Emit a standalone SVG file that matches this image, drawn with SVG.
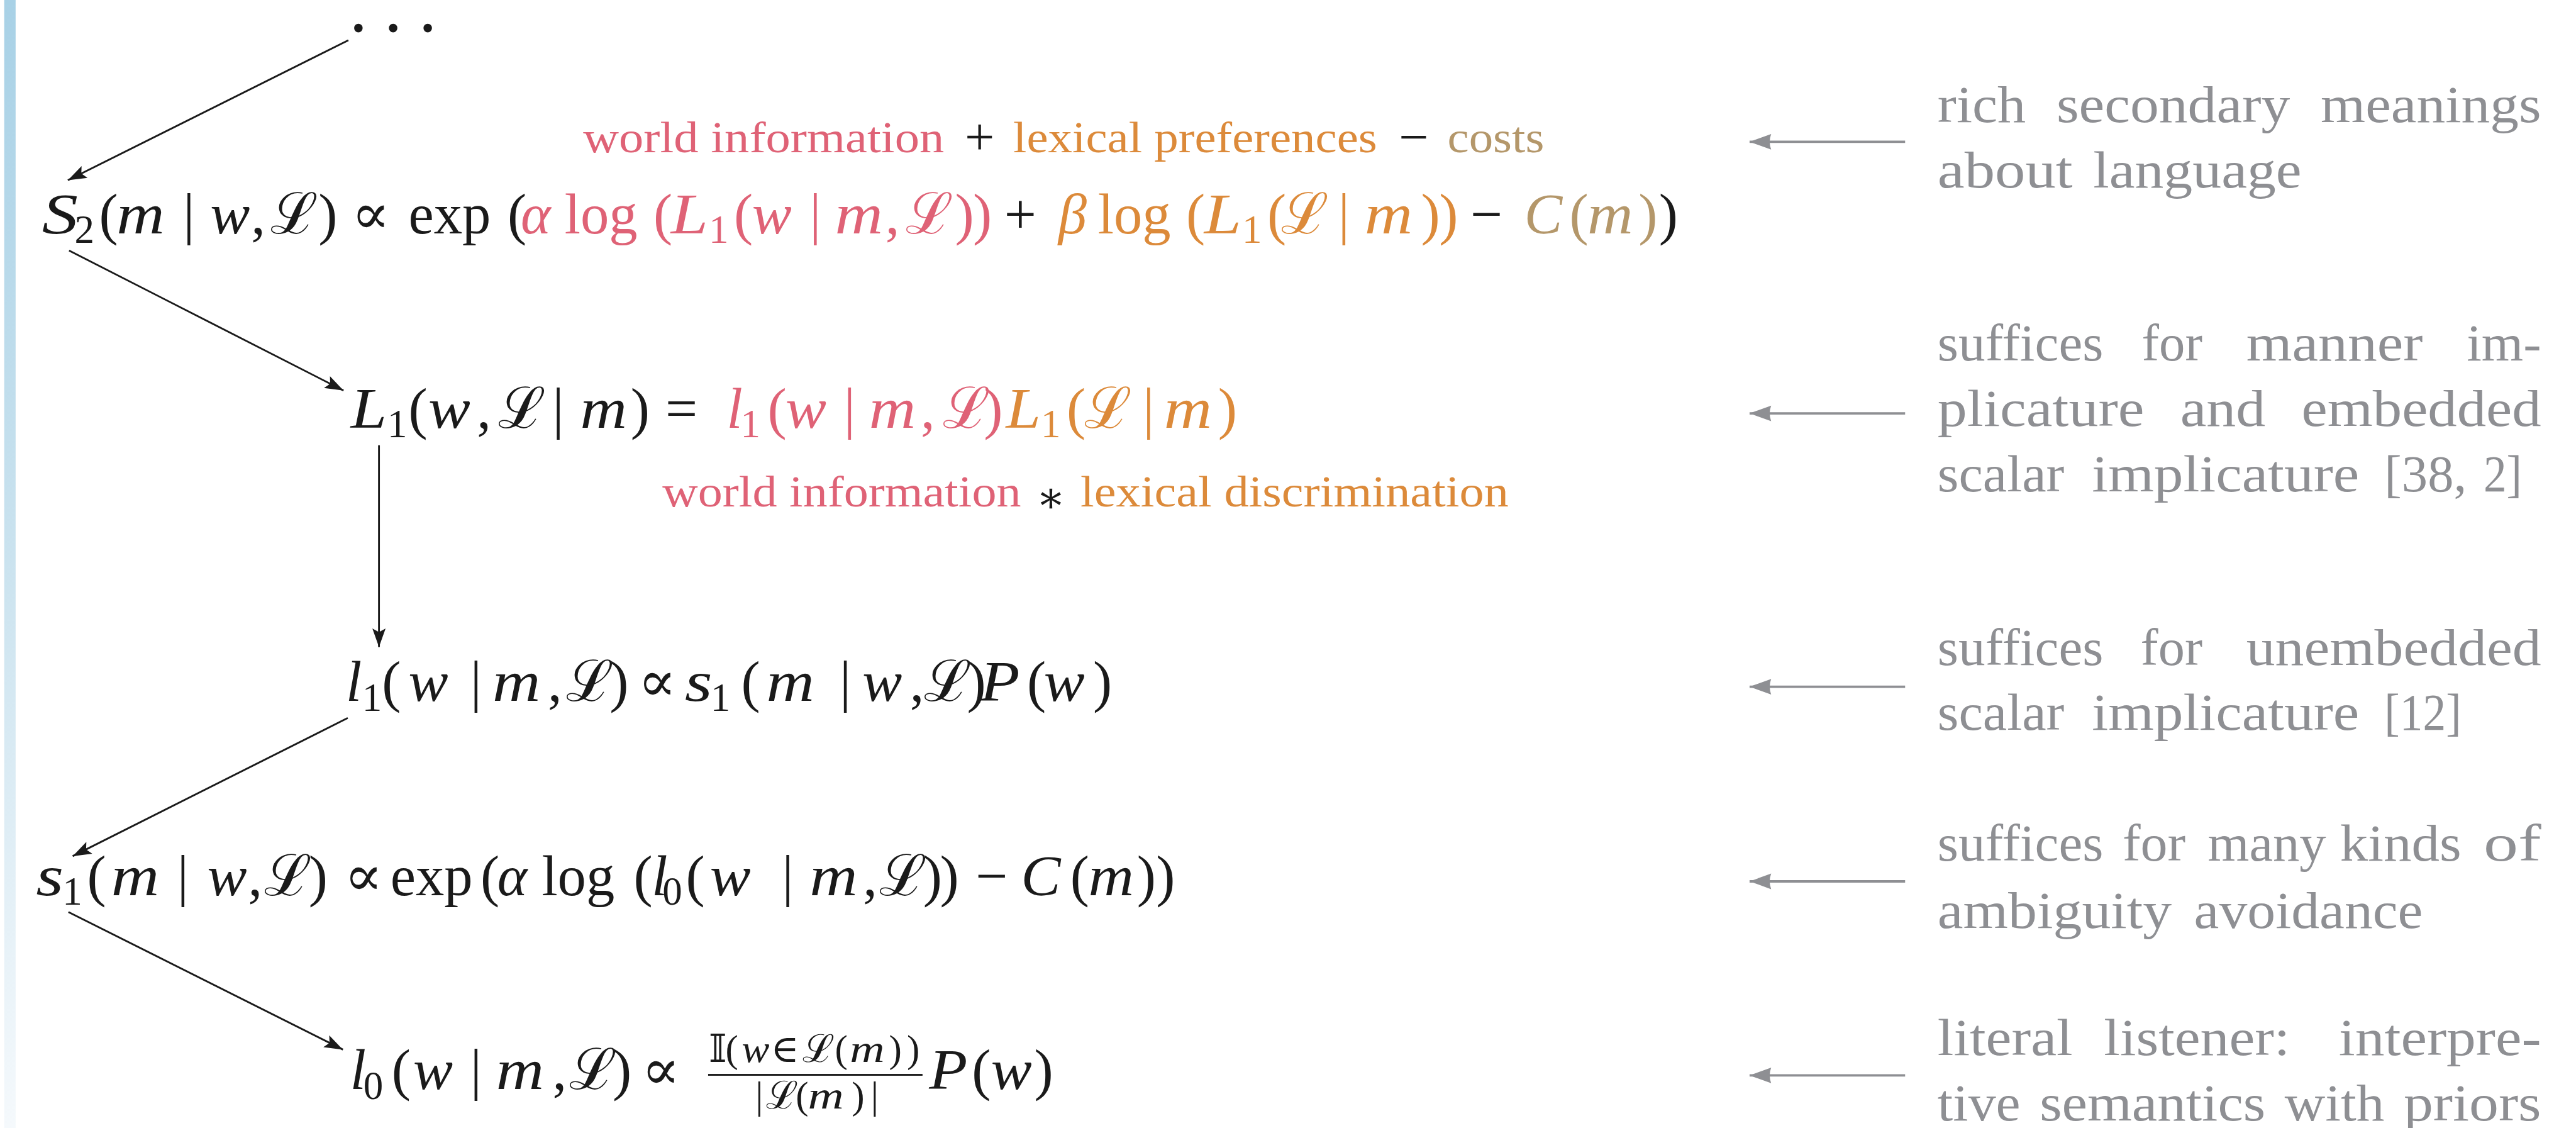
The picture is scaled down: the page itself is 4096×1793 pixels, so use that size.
<svg xmlns="http://www.w3.org/2000/svg" width="4096" height="1793" viewBox="0 0 4096 1793">
<style>
.math{font-family:"Liberation Serif","DejaVu Serif",serif;font-size:95px;fill:#1a1a1a}
.it{font-style:italic}
.sub{font-size:66px}
.frac{font-size:64px}
.red{fill:#df6276}
.org{fill:#dc8a3a}
.tan{fill:#b4976a}
.blk{fill:#1a1a1a}
.ann{font-family:"Liberation Serif","DejaVu Serif",serif;font-size:72px}
.op{font-size:88px}
.note{font-family:"Liberation Serif","DejaVu Serif",serif;font-size:86px;fill:#8e8f93}
.conn{stroke:#1a1a1a;stroke-width:3;fill:none}
.gconn{stroke:#8e8f93;stroke-width:4;fill:none}
</style>
<defs>
<linearGradient id="bar" x1="0" y1="0" x2="0" y2="1">
<stop offset="0" stop-color="#a8d1e6"/>
<stop offset="0.5" stop-color="#cbe3ef"/>
<stop offset="1" stop-color="#f5f9fc"/>
</linearGradient>
<marker id="ah" markerUnits="userSpaceOnUse" viewBox="-34 -14 36 28" refX="0" refY="0" markerWidth="36" markerHeight="28" orient="auto">
<path d="M0,0 L-31,-11 L-25,0 L-31,11 Z" fill="#1a1a1a"/>
</marker>
<marker id="gh" markerUnits="userSpaceOnUse" viewBox="-40 -16 42 32" refX="0" refY="0" markerWidth="42" markerHeight="32" orient="auto">
<path d="M0,0 L-36,-13 Q-31,0 -36,13 Z" fill="#8e8f93"/>
</marker>
</defs>
<rect width="4096" height="1793" fill="#ffffff"/>
<g transform="scale(0.955)">
<rect x="7" y="0" width="19" height="1878" fill="url(#bar)"/>

<g id="dots">
<text class="math" x="581" y="79" font-size="64" letter-spacing="26" stroke="#1a1a1a" stroke-width="3">···</text>
</g>

<g id="S2">
<text class="math" y="388"><tspan class="it" x="70" textLength="60" lengthAdjust="spacingAndGlyphs">S</tspan><tspan class="sub" x="124" y="404">2</tspan><tspan x="165" y="388">(</tspan><tspan class="it" x="194" textLength="80" lengthAdjust="spacingAndGlyphs">m</tspan><tspan x="305">|</tspan><tspan class="it" x="350" textLength="66" lengthAdjust="spacingAndGlyphs">w</tspan><tspan x="418">,</tspan><tspan x="450">ℒ</tspan><tspan x="530">)</tspan><tspan x="585">∝</tspan><tspan x="680">exp</tspan><tspan x="845">(</tspan><tspan class="it red" x="867">α</tspan><tspan class="red" x="940">log</tspan><tspan class="red" x="1088">(</tspan><tspan class="it red" x="1117" textLength="62" lengthAdjust="spacingAndGlyphs">L</tspan><tspan class="sub red" x="1180" y="404">1</tspan><tspan class="red" x="1222" y="388">(</tspan><tspan class="it red" x="1252" textLength="66" lengthAdjust="spacingAndGlyphs">w</tspan><tspan class="red" x="1348">|</tspan><tspan class="it red" x="1390" textLength="80" lengthAdjust="spacingAndGlyphs">m</tspan><tspan class="red" x="1474">,</tspan><tspan class="red" x="1508">ℒ</tspan><tspan class="red" x="1590">)</tspan><tspan class="red" x="1620">)</tspan><tspan x="1672">+</tspan><tspan class="it org" x="1762">β</tspan><tspan class="org" x="1828">log</tspan><tspan class="org" x="1975">(</tspan><tspan class="it org" x="2005" textLength="62" lengthAdjust="spacingAndGlyphs">L</tspan><tspan class="sub org" x="2068" y="404">1</tspan><tspan class="org" x="2110" y="388">(</tspan><tspan class="org" x="2133">ℒ</tspan><tspan class="org" x="2228">|</tspan><tspan class="it org" x="2272" textLength="80" lengthAdjust="spacingAndGlyphs">m</tspan><tspan class="org" x="2366">)</tspan><tspan class="org" x="2396">)</tspan><tspan x="2448">−</tspan><tspan class="it tan" x="2538">C</tspan><tspan class="tan" x="2613">(</tspan><tspan class="it tan" x="2643" textLength="76" lengthAdjust="spacingAndGlyphs">m</tspan><tspan class="tan" x="2728">)</tspan><tspan x="2762">)</tspan></text>
</g>

<g id="S2-annotation">
<text class="ann red" x="971" y="253" textLength="601" lengthAdjust="spacingAndGlyphs">world information</text>
<text class="ann op blk" x="1631" y="258" text-anchor="middle">+</text>
<text class="ann org" x="1687" y="253" textLength="606" lengthAdjust="spacingAndGlyphs">lexical preferences</text>
<text class="ann op blk" x="2354" y="258" text-anchor="middle">−</text>
<text class="ann tan" x="2410" y="253" textLength="161" lengthAdjust="spacingAndGlyphs">costs</text>
</g>

<g id="L1">
<text class="math" y="712"><tspan class="it" x="584" textLength="60" lengthAdjust="spacingAndGlyphs">L</tspan><tspan class="sub" x="645" y="728">1</tspan><tspan x="680" y="712">(</tspan><tspan class="it" x="713" textLength="70" lengthAdjust="spacingAndGlyphs">w</tspan><tspan x="794">,</tspan><tspan x="829">ℒ</tspan><tspan x="920">|</tspan><tspan class="it" x="966" textLength="78" lengthAdjust="spacingAndGlyphs">m</tspan><tspan x="1050">)</tspan><tspan x="1108">=</tspan><tspan class="it red" x="1210">l</tspan><tspan class="sub red" x="1233" y="728">1</tspan><tspan class="red" x="1278" y="712">(</tspan><tspan class="it red" x="1308" textLength="68" lengthAdjust="spacingAndGlyphs">w</tspan><tspan class="red" x="1405">|</tspan><tspan class="it red" x="1447" textLength="78" lengthAdjust="spacingAndGlyphs">m</tspan><tspan class="red" x="1533">,</tspan><tspan class="red" x="1570">ℒ</tspan><tspan class="red" x="1638">)</tspan><tspan class="it org" x="1675" textLength="58" lengthAdjust="spacingAndGlyphs">L</tspan><tspan class="sub org" x="1733" y="728">1</tspan><tspan class="org" x="1776" y="712">(</tspan><tspan class="org" x="1805">ℒ</tspan><tspan class="org" x="1903">|</tspan><tspan class="it org" x="1938" textLength="80" lengthAdjust="spacingAndGlyphs">m</tspan><tspan class="org" x="2028">)</tspan></text>
</g>

<g id="L1-annotation">
<text class="ann red" x="1103" y="843" textLength="597" lengthAdjust="spacingAndGlyphs">world information</text>
<text class="ann blk" x="1750" y="852" text-anchor="middle">∗</text>
<text class="ann org" x="1799" y="843" textLength="713" lengthAdjust="spacingAndGlyphs">lexical discrimination</text>
</g>

<g id="l1">
<text class="math" y="1167"><tspan class="it" x="576">l</tspan><tspan class="sub" x="603" y="1183">1</tspan><tspan x="636" y="1167">(</tspan><tspan class="it" x="680" textLength="66" lengthAdjust="spacingAndGlyphs">w</tspan><tspan x="783">|</tspan><tspan class="it" x="820" textLength="80" lengthAdjust="spacingAndGlyphs">m</tspan><tspan x="912">,</tspan><tspan x="942">ℒ</tspan><tspan x="1015">)</tspan><tspan x="1062">∝</tspan><tspan class="it" x="1140" textLength="46" lengthAdjust="spacingAndGlyphs">s</tspan><tspan class="sub" x="1183" y="1183">1</tspan><tspan x="1234" y="1167">(</tspan><tspan class="it" x="1276" textLength="80" lengthAdjust="spacingAndGlyphs">m</tspan><tspan x="1398">|</tspan><tspan class="it" x="1436" textLength="66" lengthAdjust="spacingAndGlyphs">w</tspan><tspan x="1515">,</tspan><tspan x="1538">ℒ</tspan><tspan x="1610">)</tspan><tspan class="it" x="1632" textLength="66" lengthAdjust="spacingAndGlyphs">P</tspan><tspan x="1710">(</tspan><tspan class="it" x="1738" textLength="68" lengthAdjust="spacingAndGlyphs">w</tspan><tspan x="1820">)</tspan></text>
</g>

<g id="s1">
<text class="math" y="1490"><tspan class="it" x="60" textLength="46" lengthAdjust="spacingAndGlyphs">s</tspan><tspan class="sub" x="104" y="1506">1</tspan><tspan x="145" y="1490">(</tspan><tspan class="it" x="185" textLength="80" lengthAdjust="spacingAndGlyphs">m</tspan><tspan x="295">|</tspan><tspan class="it" x="345" textLength="66" lengthAdjust="spacingAndGlyphs">w</tspan><tspan x="413">,</tspan><tspan x="440">ℒ</tspan><tspan x="514">)</tspan><tspan x="573">∝</tspan><tspan x="650">exp</tspan><tspan x="800">(</tspan><tspan class="it" x="828">α</tspan><tspan x="902">log</tspan><tspan x="1055">(</tspan><tspan class="it" x="1085">l</tspan><tspan class="sub" x="1103" y="1506">0</tspan><tspan x="1142" y="1490">(</tspan><tspan class="it" x="1182" textLength="68" lengthAdjust="spacingAndGlyphs">w</tspan><tspan x="1302">|</tspan><tspan class="it" x="1348" textLength="80" lengthAdjust="spacingAndGlyphs">m</tspan><tspan x="1437">,</tspan><tspan x="1464">ℒ</tspan><tspan x="1537">)</tspan><tspan x="1565">)</tspan><tspan x="1624">−</tspan><tspan class="it" x="1700" textLength="66" lengthAdjust="spacingAndGlyphs">C</tspan><tspan x="1782">(</tspan><tspan class="it" x="1812" textLength="76" lengthAdjust="spacingAndGlyphs">m</tspan><tspan x="1893">)</tspan><tspan x="1925">)</tspan></text>
</g>

<g id="l0">
<text class="math" y="1813"><tspan class="it" x="583">l</tspan><tspan class="sub" x="605" y="1829">0</tspan><tspan x="652" y="1813">(</tspan><tspan class="it" x="688" textLength="66" lengthAdjust="spacingAndGlyphs">w</tspan><tspan x="783">|</tspan><tspan class="it" x="826" textLength="80" lengthAdjust="spacingAndGlyphs">m</tspan><tspan x="920">,</tspan><tspan x="948">ℒ</tspan><tspan x="1020">)</tspan><tspan x="1068">∝</tspan><tspan class="it" x="1547" textLength="64" lengthAdjust="spacingAndGlyphs">P</tspan><tspan x="1618">(</tspan><tspan class="it" x="1650" textLength="68" lengthAdjust="spacingAndGlyphs">w</tspan><tspan x="1722">)</tspan></text>
<text class="math frac" y="1768"><tspan x="1180">𝕀</tspan><tspan x="1208">(</tspan><tspan class="it" x="1235" textLength="46" lengthAdjust="spacingAndGlyphs">w</tspan><tspan x="1283">∈</tspan><tspan x="1336">ℒ</tspan><tspan x="1390">(</tspan><tspan class="it" x="1415" textLength="58" lengthAdjust="spacingAndGlyphs">m</tspan><tspan x="1480">)</tspan><tspan x="1510">)</tspan></text>
<rect x="1179" y="1787.5" width="357" height="3" fill="#1a1a1a"/>
<text class="math frac" y="1845"><tspan x="1258">|</tspan><tspan x="1275">ℒ</tspan><tspan x="1325">(</tspan><tspan class="it" x="1345" textLength="60" lengthAdjust="spacingAndGlyphs">m</tspan><tspan x="1418">)</tspan><tspan x="1450">|</tspan></text>
</g>

<g id="connectors">
<path class="conn" d="M580,67 L113,300" marker-end="url(#ah)"/>
<path class="conn" d="M115,417 L572,650" marker-end="url(#ah)"/>
<path class="conn" d="M631,741 L631,1077" marker-end="url(#ah)"/>
<path class="conn" d="M579,1195 L121,1425" marker-end="url(#ah)"/>
<path class="conn" d="M114,1518 L571,1747" marker-end="url(#ah)"/>
<path class="gconn" d="M3172,236 L2913,236" marker-end="url(#gh)"/>
<path class="gconn" d="M3172,688 L2913,688" marker-end="url(#gh)"/>
<path class="gconn" d="M3172,1143 L2913,1143" marker-end="url(#gh)"/>
<path class="gconn" d="M3172,1467 L2913,1467" marker-end="url(#gh)"/>
<path class="gconn" d="M3172,1790 L2913,1790" marker-end="url(#gh)"/>
</g>

<g id="note-S2">
<text class="note" x="3226" y="203" textLength="147" lengthAdjust="spacingAndGlyphs">rich</text>
<text class="note" x="3424" y="203" textLength="389" lengthAdjust="spacingAndGlyphs">secondary</text>
<text class="note" x="3864" y="203" textLength="367" lengthAdjust="spacingAndGlyphs">meanings</text>
<text class="note" x="3226" y="312" textLength="225" lengthAdjust="spacingAndGlyphs">about</text>
<text class="note" x="3485" y="312" textLength="347" lengthAdjust="spacingAndGlyphs">language</text>
</g>

<g id="note-L1">
<text class="note" x="3226" y="600" textLength="276" lengthAdjust="spacingAndGlyphs">suffices</text>
<text class="note" x="3566" y="600" textLength="101" lengthAdjust="spacingAndGlyphs">for</text>
<text class="note" x="3740" y="600" textLength="294" lengthAdjust="spacingAndGlyphs">manner</text>
<text class="note" x="4107" y="600" textLength="124" lengthAdjust="spacingAndGlyphs">im-</text>
<text class="note" x="3226" y="709" textLength="344" lengthAdjust="spacingAndGlyphs">plicature</text>
<text class="note" x="3630" y="709" textLength="142" lengthAdjust="spacingAndGlyphs">and</text>
<text class="note" x="3832" y="709" textLength="399" lengthAdjust="spacingAndGlyphs">embedded</text>
<text class="note" x="3226" y="818" textLength="211" lengthAdjust="spacingAndGlyphs">scalar</text>
<text class="note" x="3483" y="818" textLength="445" lengthAdjust="spacingAndGlyphs">implicature</text>
<text class="note" x="3970" y="818" textLength="137" lengthAdjust="spacingAndGlyphs">[38,</text>
<text class="note" x="4135" y="818" textLength="64" lengthAdjust="spacingAndGlyphs">2]</text>
</g>

<g id="note-l1">
<text class="note" x="3226" y="1107" textLength="276" lengthAdjust="spacingAndGlyphs">suffices</text>
<text class="note" x="3564" y="1107" textLength="103" lengthAdjust="spacingAndGlyphs">for</text>
<text class="note" x="3740" y="1107" textLength="491" lengthAdjust="spacingAndGlyphs">unembedded</text>
<text class="note" x="3226" y="1215" textLength="211" lengthAdjust="spacingAndGlyphs">scalar</text>
<text class="note" x="3483" y="1215" textLength="445" lengthAdjust="spacingAndGlyphs">implicature</text>
<text class="note" x="3970" y="1215" textLength="128" lengthAdjust="spacingAndGlyphs">[12]</text>
</g>

<g id="note-s1">
<text class="note" x="3226" y="1432" textLength="276" lengthAdjust="spacingAndGlyphs">suffices</text>
<text class="note" x="3534" y="1432" textLength="105" lengthAdjust="spacingAndGlyphs">for</text>
<text class="note" x="3676" y="1432" textLength="197" lengthAdjust="spacingAndGlyphs">many</text>
<text class="note" x="3896" y="1432" textLength="202" lengthAdjust="spacingAndGlyphs">kinds</text>
<text class="note" x="4135" y="1432" textLength="96" lengthAdjust="spacingAndGlyphs">of</text>
<text class="note" x="3226" y="1544" textLength="390" lengthAdjust="spacingAndGlyphs">ambiguity</text>
<text class="note" x="3653" y="1544" textLength="381" lengthAdjust="spacingAndGlyphs">avoidance</text>
</g>

<g id="note-l0">
<text class="note" x="3226" y="1756" textLength="225" lengthAdjust="spacingAndGlyphs">literal</text>
<text class="note" x="3503" y="1756" textLength="310" lengthAdjust="spacingAndGlyphs">listener:</text>
<text class="note" x="3894" y="1756" textLength="337" lengthAdjust="spacingAndGlyphs">interpre-</text>
<text class="note" x="3226" y="1865" textLength="138" lengthAdjust="spacingAndGlyphs">tive</text>
<text class="note" x="3396" y="1865" textLength="376" lengthAdjust="spacingAndGlyphs">semantics</text>
<text class="note" x="3804" y="1865" textLength="166" lengthAdjust="spacingAndGlyphs">with</text>
<text class="note" x="4002" y="1865" textLength="229" lengthAdjust="spacingAndGlyphs">priors</text>
</g>
</g>
</svg>
